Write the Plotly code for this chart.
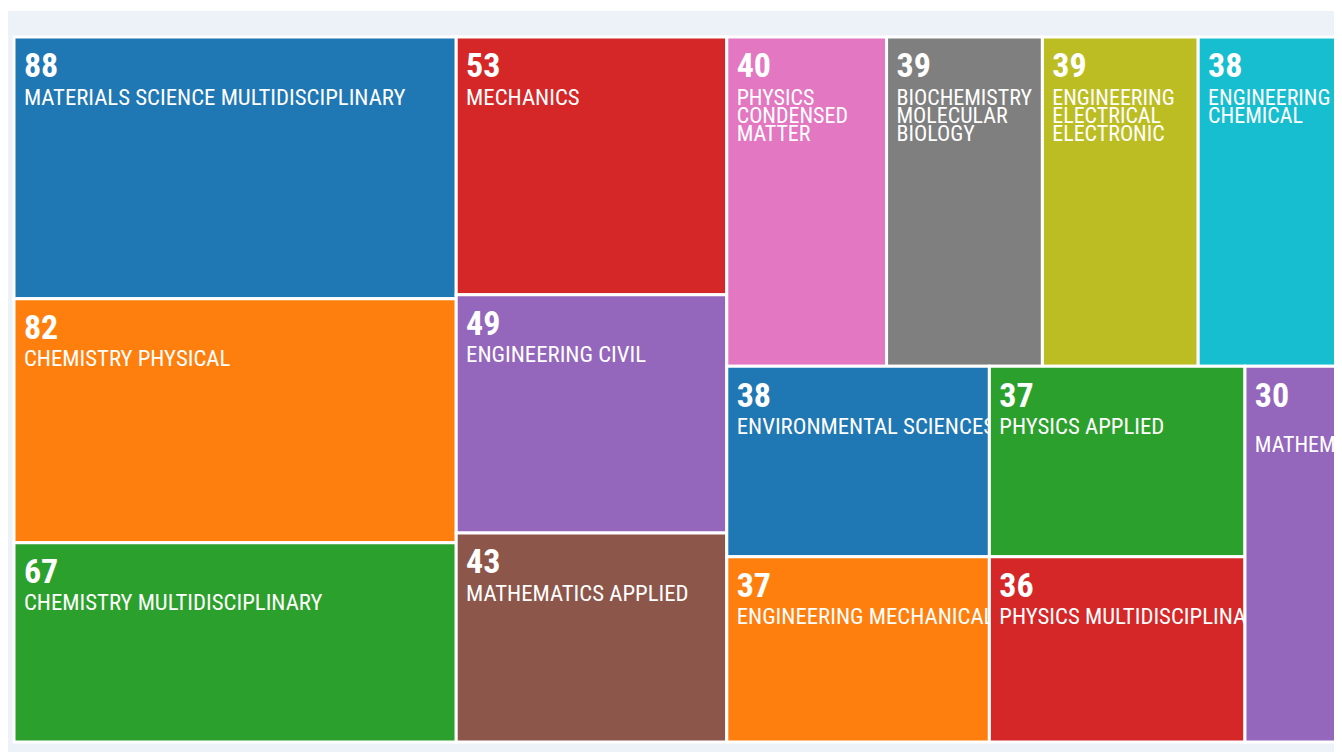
import plotly.graph_objects as go

# ---- data ----
categories = [
    "MATERIALS SCIENCE MULTIDISCIPLINARY", "CHEMISTRY PHYSICAL", "CHEMISTRY MULTIDISCIPLINARY",
    "MECHANICS", "ENGINEERING CIVIL", "MATHEMATICS APPLIED",
    "PHYSICS CONDENSED MATTER", "BIOCHEMISTRY MOLECULAR BIOLOGY",
    "ENGINEERING ELECTRICAL ELECTRONIC", "ENGINEERING CHEMICAL",
    "ENVIRONMENTAL SCIENCES", "ENGINEERING MECHANICAL", "PHYSICS APPLIED",
    "PHYSICS MULTIDISCIPLINARY", "MATHEMATICS",
]
values = [88, 82, 67, 53, 49, 43, 40, 39, 39, 38, 38, 37, 37, 36, 30]
colors = [
    "#1f77b4", "#ff7f0e", "#2ca02c", "#d62728", "#9467bd", "#8c564b", "#e377c2",
    "#7f7f7f", "#bcbd22", "#17becf", "#1f77b4", "#ff7f0e", "#2ca02c", "#d62728", "#9467bd",
]
# how the labels wrap inside narrow tiles
wrapped = {
    "PHYSICS CONDENSED MATTER": ["PHYSICS", "CONDENSED", "MATTER"],
    "BIOCHEMISTRY MOLECULAR BIOLOGY": ["BIOCHEMISTRY", "MOLECULAR", "BIOLOGY"],
    "ENGINEERING ELECTRICAL ELECTRONIC": ["ENGINEERING", "ELECTRICAL", "ELECTRONIC"],
    "ENGINEERING CHEMICAL": ["ENGINEERING", "CHEMICAL"],
    "MATHEMATICS": ["", "MATHEMATICS"],
}
# tile grouping of the squarified layout (indices into the lists above)
layout_tree = [
    ("c1", [0, 1, 2]),
    ("c2", [3, 4, 5]),
    ("r", [
        ("top", [6, 7, 8, 9]),
        ("bot", [("q1", [10, 11]), ("q2", [12, 13]), ("m", [14])]),
    ]),
]

FONT = "Roboto Condensed, DejaVu Sans Condensed, sans-serif"
W, H = 1350, 744
M = dict(l=6, r=8, t=29, b=10)


def tile_text(i):
    lines = wrapped.get(categories[i], [categories[i]])
    size = 22.8 if len(lines) == 1 else 22
    indent = "<span style='font-size:30px'>&nbsp;</span>"
    head = "<span style='font-size:1px'>&nbsp;</span>" + "<br>" * 4
    num = indent + "<span style='font-size:34px'><b>%d</b></span>" % values[i]
    lab = "<br><br>".join(
        (indent + "<span style='font-size:%spx'>%s</span>" % (size, l)) if l else "" for l in lines
    )
    return head + num + "<br>" * 3 + lab


ids, labels, parents, vals, cols, texts, lw = [], [], [], [], [], [], []


def add_node(node, parent):
    if isinstance(node, int):
        ids.append("leaf%d" % node)
        labels.append(categories[node])
        parents.append(parent)
        vals.append(values[node])
        cols.append(colors[node])
        texts.append(tile_text(node))
        lw.append(3)
        return
    gid, children = node
    ids.append(gid)
    labels.append(gid)
    parents.append(parent)
    vals.append(0)
    cols.append("rgba(0,0,0,0)")
    texts.append("")
    lw.append(0)
    for ch in children:
        add_node(ch, gid)


for node in layout_tree:
    add_node(node, "")

fig = go.Figure(
    go.Treemap(
        ids=ids,
        labels=labels,
        parents=parents,
        values=vals,
        branchvalues="remainder",
        sort=False,
        text=texts,
        textinfo="text",
        textposition="top left",
        textfont=dict(family=FONT, size=7, color="white"),
        marker=dict(
            colors=cols,
            line=dict(color="white", width=lw),
            pad=dict(t=0, l=0, r=0, b=0),
            depthfade=False,
        ),
        tiling=dict(packing="slice-dice", pad=0),
        pathbar=dict(visible=False),
        hoverinfo="skip",
    )
)

pw = W - M["l"] - M["r"]
ph = H - M["t"] - M["b"]
fig.add_shape(
    type="rect", xref="paper", yref="paper", layer="below",
    x0=-M["l"] / pw, x1=(W - M["l"]) / pw,
    y0=-M["b"] / ph, y1=(H - M["b"] - 3) / ph,
    fillcolor="#EDF1F8", line=dict(width=0),
)

fig.update_layout(
    width=W,
    height=H,
    margin=M,
    paper_bgcolor="white",
    uniformtext=dict(minsize=7, mode="show"),
    showlegend=False,
)

fig.write_html("out.html")
